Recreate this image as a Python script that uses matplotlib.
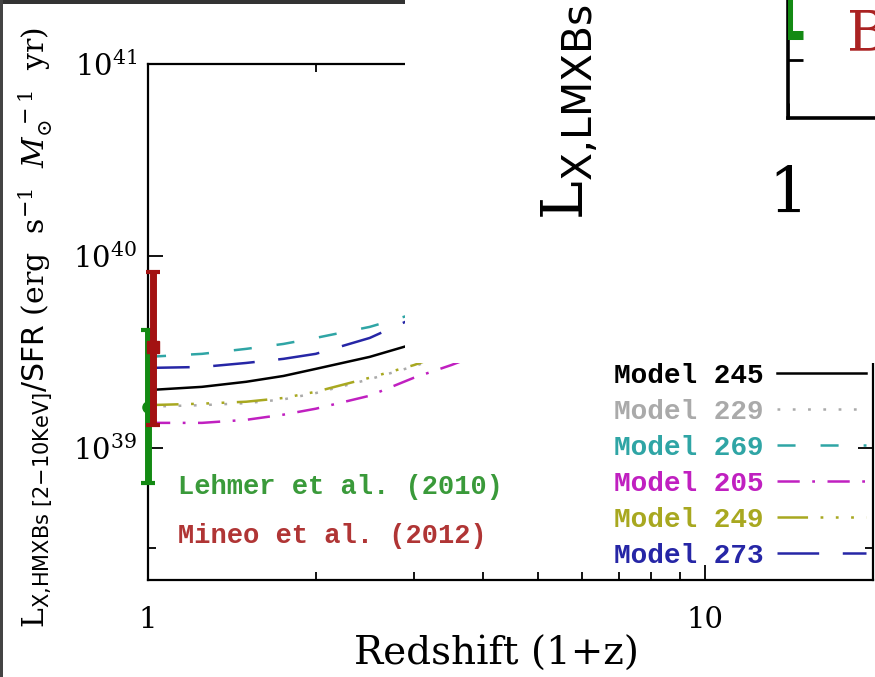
import numpy as np
import matplotlib
matplotlib.use("Agg")
import matplotlib.pyplot as plt
from matplotlib.patches import Rectangle
from matplotlib.ticker import FixedLocator, NullFormatter

plt.rcParams['font.family'] = 'DejaVu Serif'
plt.rcParams['mathtext.fontset'] = 'dejavuserif'
plt.rcParams['lines.scale_dashes'] = False

# redshift grid (1+z) and L_X/SFR of the models, in units of 1e39
opz = [1.0, 1.25, 1.5, 1.75, 2.0, 2.5, 3.0, 3.5, 4.0, 5.0, 7.0, 10.0, 15.0, 20.0]
m245 = [2.00, 2.08, 2.21, 2.37, 2.58, 2.98, 3.48, 4.02, 4.65, 5.6, 7.0, 8.2, 9.0, 9.4]
m229 = [1.64, 1.67, 1.71, 1.79, 1.93, 2.28, 2.66, 3.11, 3.60, 4.4, 5.7, 6.8, 7.5, 7.9]
m269 = [2.98, 3.09, 3.28, 3.48, 3.74, 4.27, 4.99, 5.76, 6.65, 8.0, 10.0, 11.5, 12.5, 13.0]
m205 = [1.35, 1.35, 1.40, 1.49, 1.60, 1.87, 2.32, 2.70, 3.13, 3.9, 5.0, 6.0, 6.7, 7.0]
m249 = [1.67, 1.70, 1.74, 1.82, 1.96, 2.32, 2.70, 3.16, 3.65, 4.5, 5.8, 6.9, 7.6, 8.0]
m273 = [2.61, 2.64, 2.77, 2.91, 3.09, 3.74, 4.75, 5.56, 6.50, 7.9, 9.8, 11.2, 12.2, 12.8]

model_names = ['Model 245', 'Model 229', 'Model 269', 'Model 205', 'Model 249', 'Model 273']
model_vals = [m245, m229, m269, m205, m249, m273]
model_cols = ['black', '#aaaaaa', '#2fa5a5', '#c020c0', '#a8a820', '#2626a6']
model_ls = ['-', (0, (2, 9)), (0, (13, 18)), (0, (16, 9, 2, 9)),
            (0, (22, 9, 2, 9, 2, 9, 2, 9)), (0, (30, 17))]

# observations at z=0: value, lower, upper (1e39 units)
lehmer = [1.64, 0.66, 4.1]
mineo = [3.36, 1.32, 8.25]

# LMXB panel (only its corner is visible)
lmxb_obs = [3.0, 1.14, 8.0]

W, H = 875, 677
fig = plt.figure(figsize=(W / 100, H / 100), dpi=100)


def px(x0, y0, x1, y1):
    return [x0 / W, 1 - y1 / H, (x1 - x0) / W, (y1 - y0) / H]


ax = fig.add_axes(px(148, 64, 873, 580))
ax.set_xscale('log')
ax.set_yscale('log')

order = [2, 5, 0, 1, 4, 3]
handles = [None] * 6
for i in order:
    ln, = ax.plot(opz, np.array(model_vals[i]) * 1e39, color=model_cols[i],
                  ls=model_ls[i], lw=1.8, label=model_names[i])
    handles[i] = ln

g = np.array(lehmer) * 1e39
ax.errorbar([1.0], [g[0]], yerr=[[g[0] - g[1]], [g[2] - g[0]]], fmt='o', color='#138a13',
            ms=8, elinewidth=5, capsize=5, capthick=3, clip_on=False, zorder=4)
r = np.array(mineo) * 1e39
ax.errorbar([1.021], [r[0]], yerr=[[r[0] - r[1]], [r[2] - r[0]]], fmt='s', color='#a31212',
            ms=8, elinewidth=5, capsize=5, capthick=3, clip_on=False, zorder=5)

mono = {'family': 'Liberation Mono', 'weight': 'bold'}
ax.text(0.041, 0.1667, 'Lehmer et al. (2010)', transform=ax.transAxes, fontdict=mono,
        fontsize=19.5, color='#3a9a3a', va='baseline')
ax.text(0.041, 0.0717, 'Mineo et al. (2012)', transform=ax.transAxes, fontdict=mono,
        fontsize=19.5, color='#b03535', va='baseline')

ax.set_xlim(1, 20)
ax.set_ylim(2.05e38, 1e41)
ax.set_xticks([1, 10], ['1', '10'])
ax.xaxis.set_minor_locator(FixedLocator([2, 3, 4, 5, 6, 7, 8, 9]))
ax.xaxis.set_minor_formatter(NullFormatter())
ax.yaxis.set_major_locator(FixedLocator([1e39, 1e40, 1e41]))
ax.yaxis.set_minor_locator(FixedLocator([3e38]))
ax.yaxis.set_minor_formatter(NullFormatter())
ax.tick_params(which='both', direction='in', top=True, right=True, width=1.3, labelsize=21)
ax.tick_params(which='major', length=11)
ax.tick_params(which='minor', length=6)
ax.tick_params(axis='x', pad=19)
ax.tick_params(axis='y', pad=8)
for s in ax.spines.values():
    s.set_linewidth(1.6)

ax.set_xlabel('Redshift (1+z)', fontsize=28)
ax.xaxis.set_label_coords(0.481, -0.108)
ax.set_ylabel(r'$\mathrm{L}_{\mathsf{X{,}HMXBs\ [2{-}10KeV]}}\mathsf{/SFR}\ '
              r'\mathrm{(erg\ \ s^{-1}\ \ }M_{\odot}^{\ -1}\ \ \mathrm{yr)}$', fontsize=21.5)
ax.yaxis.set_label_coords(-0.128, 0.49)

ax.legend(handles, model_names, loc='upper right', bbox_to_anchor=(866 / W, 1 - 363 / H),
          bbox_transform=fig.transFigure, frameon=False, markerfirst=False,
          prop={'family': 'Liberation Mono', 'weight': 'bold', 'size': 20}, handlelength=3.2,
          handletextpad=0.5, labelspacing=0.36, borderpad=0, borderaxespad=0,
          labelcolor='linecolor')

# window border
fig.add_artist(Rectangle((0, 1 - 4 / H), 1, 4 / H, transform=fig.transFigure,
                         facecolor='#333333', edgecolor='none', zorder=1.5))
fig.add_artist(Rectangle((0, 0), 3 / W, 1, transform=fig.transFigure,
                         facecolor='#444444', edgecolor='none', zorder=6))

# overlapping piece of the neighbouring panel
fig.add_artist(Rectangle((405 / W, 1 - 363 / H), 1, 363 / H, transform=fig.transFigure,
                         facecolor='white', edgecolor='none', zorder=2))
ax2 = fig.add_axes(px(788, 118 - 1384, 788 + 1670, 118), zorder=3)
ax2.patch.set_visible(False)
ax2.set_xscale('log')
ax2.set_yscale('log')
ax2.set_xlim(1, 20)
ax2.set_ylim(7.4e37, 1e41)
ax2.set_xticks([1], ['1'])
ax2.xaxis.set_minor_locator(FixedLocator([]))
ax2.yaxis.set_major_locator(FixedLocator([1e38]))
ax2.yaxis.set_minor_locator(FixedLocator([]))
ax2.tick_params(direction='in', length=11, width=2, labelsize=45, labelleft=False, pad=34)
for s in ax2.spines.values():
    s.set_linewidth(2.6)
o = np.array(lmxb_obs) * 1e38
ax2.errorbar([1.0], [o[0]], yerr=[[o[0] - o[1]], [o[2] - o[0]]], fmt='none', color='#138a13',
             elinewidth=6.5, capsize=11, capthick=6.5, zorder=4)
ax2.text(0.0353, 0.0491, 'B', transform=ax2.transAxes, fontsize=40, color='#aa2222',
         va='baseline')
ax2.set_ylabel(r'$\mathrm{L}_{\mathsf{X{,}LMXBs}}$', fontsize=42)
ax2.yaxis.set_label_coords(600 / W, 1 - 112 / H, transform=fig.transFigure)

fig.savefig('out.png', dpi=100)
